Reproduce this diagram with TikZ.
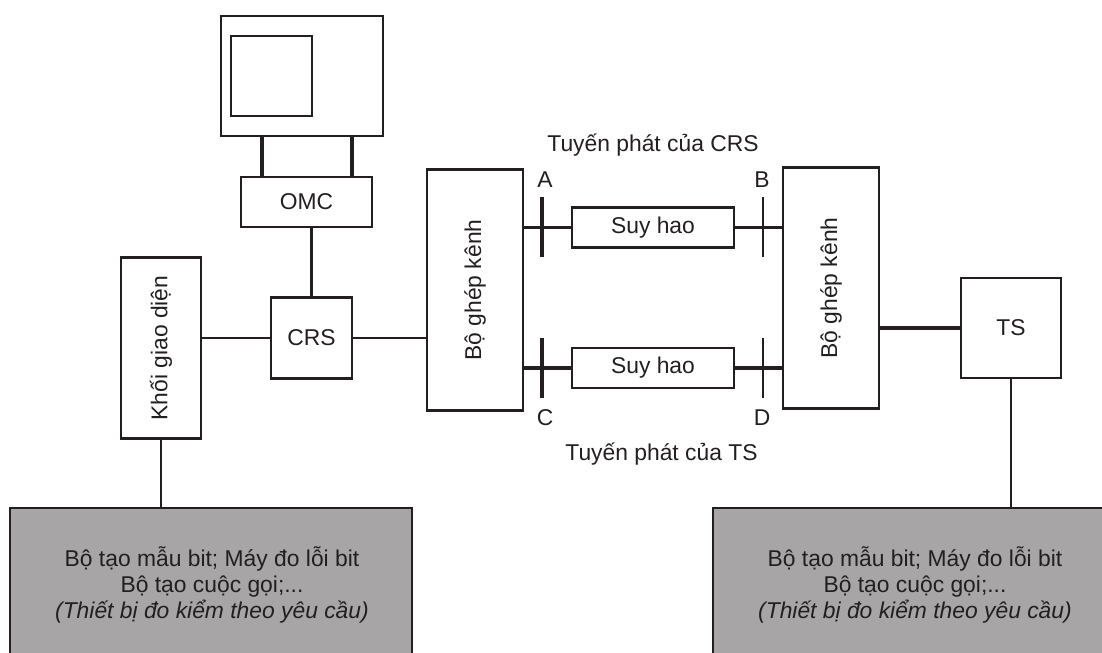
\documentclass[tikz,border=0pt]{standalone}
\usepackage{graphicx}
\usepackage{fontspec}
\setmainfont{Liberation Sans}
\usetikzlibrary{positioning}
\definecolor{inkblack}{HTML}{231F20}
\definecolor{panelgray}{HTML}{A7A5A6}
\tikzset{
  block/.style={rectangle, draw=inkblack, line width=1.2pt, text=inkblack, text centered, inner sep=0pt, font=\fontsize{13}{15}\selectfont},
  monitorbox/.style={block, minimum width=3.24cm, minimum height=2.4cm},
  screenbox/.style={block, minimum width=1.62cm, minimum height=1.6cm},
  muxbox/.style={block, minimum width=1.91cm, minimum height=4.82cm},
  lossbox/.style={block, minimum width=3.24cm, minimum height=0.8cm},
  panel/.style={block, fill=panelgray, minimum height=2.96cm},
  label/.style={text=inkblack, inner sep=0pt, align=center, font=\fontsize{13}{15}\selectfont},
  thinwire/.style={draw=inkblack, line width=1.2pt},
  thickwire/.style={draw=inkblack, line width=1.9pt}
}
\begin{document}
\begin{tikzpicture}[node distance=1.5cm]
                \clip (0,0) rectangle (22.04,13.06);
                \node (monitor) [monitorbox] at (6.04,11.54) {};
                \node (screen) [screenbox, left of=monitor, xshift=0.89cm] {};
                \node (omc) [block, minimum width=2.62cm, minimum height=1cm, below of=monitor, xshift=0.09cm, yshift=-1.02cm] {OMC};
                \node (crs) [block, minimum width=1.62cm, minimum height=1.62cm, below of=omc, xshift=0.1cm, yshift=-1.22cm] {CRS};
                \node (iface) [block, minimum width=1.6cm, minimum height=3.62cm, left of=crs, xshift=-1.51cm, yshift=-0.2cm] {\rotatebox{90}{Khối giao diện}};
                \node (muxL) [muxbox, right of=crs, xshift=1.77cm, yshift=0.96cm] {\rotatebox{90}{Bộ ghép kênh}};

                % two lossy links between the multiplexers
                \node (lossT) [lossbox, right of=muxL, xshift=2.06cm, yshift=1.25cm] {Suy hao};
                \node (lossB) [lossbox, below of=lossT, yshift=-1.31cm] {Suy hao};
                \node (muxR) [muxbox, right of=lossT, xshift=2.06cm, yshift=-1.21cm] {\rotatebox{90}{Bộ ghép kênh}};
                \node (ts) [block, minimum width=2cm, minimum height=2cm, right of=muxR, xshift=2.1cm, yshift=-0.8cm] {TS};

                % gray panels run past the page edge
                \node (panelL) [panel, minimum width=8.04cm, below of=iface, xshift=1cm, yshift=-3.18cm] {};
                \node (panelR) [panel, minimum width=7.84cm, below of=ts, xshift=-2.04cm, yshift=-3.58cm] {};
                \node (textL) [label, below of=iface, xshift=1.02cm, yshift=-3.24cm] {Bộ tạo mẫu bit; Máy đo lỗi bit\\Bộ tạo cuộc gọi;...\\\textit{(Thiết bị đo kiểm theo yêu cầu)}};
                \node (textR) [label, below of=ts, xshift=-1.92cm, yshift=-3.64cm] {Bộ tạo mẫu bit; Máy đo lỗi bit\\Bộ tạo cuộc gọi;...\\\textit{(Thiết bị đo kiểm theo yêu cầu)}};

                \node (titleT) [label, above of=lossT, yshift=0.15cm] {Tuyến phát của CRS};
                \node (titleB) [label, below of=lossB, xshift=0.17cm, yshift=-0.22cm] {Tuyến phát của TS};
                \node (pointA) [label, left of=lossT, xshift=-0.66cm, yshift=0.95cm] {A};
                \node (pointB) [label, right of=lossT, xshift=0.68cm, yshift=0.95cm] {B};
                \node (pointC) [label, left of=lossB, xshift=-0.66cm, yshift=-1cm] {C};
                \node (pointD) [label, right of=lossB, xshift=0.68cm, yshift=-1cm] {D};

                \coordinate [left of=lossT, xshift=-0.72cm] (tickA);
                \coordinate [right of=lossT, xshift=0.7cm] (tickB);
                \coordinate [left of=lossB, xshift=-0.72cm] (tickC);
                \coordinate [right of=lossB, xshift=0.7cm] (tickD);

                \draw [thickwire] ([xshift=-0.8cm]monitor.south) -- ([xshift=-0.8cm]monitor.south |- omc.north);
                \draw [thickwire] ([xshift=1cm]monitor.south) -- ([xshift=1cm]monitor.south |- omc.north);
                \draw [thinwire] (crs.north) -- (crs.north |- omc.south);
                \draw [thinwire] (crs.west) -- (crs.west -| iface.east);
                \draw [thinwire] (crs.east) -- (crs.east -| muxL.west);
                \draw [thinwire] (iface.south) -- (iface.south |- panelL.north);
                \draw [thinwire] (ts.south) -- (ts.south |- panelR.north);
                \draw [thickwire] (ts.west) -- (ts.west -| muxR.east);

                \draw [thinwire] (lossT.west) -- (lossT.west -| muxL.east);
                \draw [thinwire] (lossT.east) -- (lossT.east -| muxR.west);
                \draw [thickwire] (lossB.west) -- (lossB.west -| muxL.east);
                \draw [thickwire] (lossB.east) -- (lossB.east -| muxR.west);

                % test points across the links
                \draw [thickwire] (tickA) ++(0,0.6) -- ++(0,-1.2);
                \draw [thinwire] (tickB) ++(0,0.6) -- ++(0,-1.2);
                \draw [thickwire] (tickC) ++(0,0.6) -- ++(0,-1.2);
                \draw [thinwire] (tickD) ++(0,0.6) -- ++(0,-1.2);
            \end{tikzpicture}
\end{document}
